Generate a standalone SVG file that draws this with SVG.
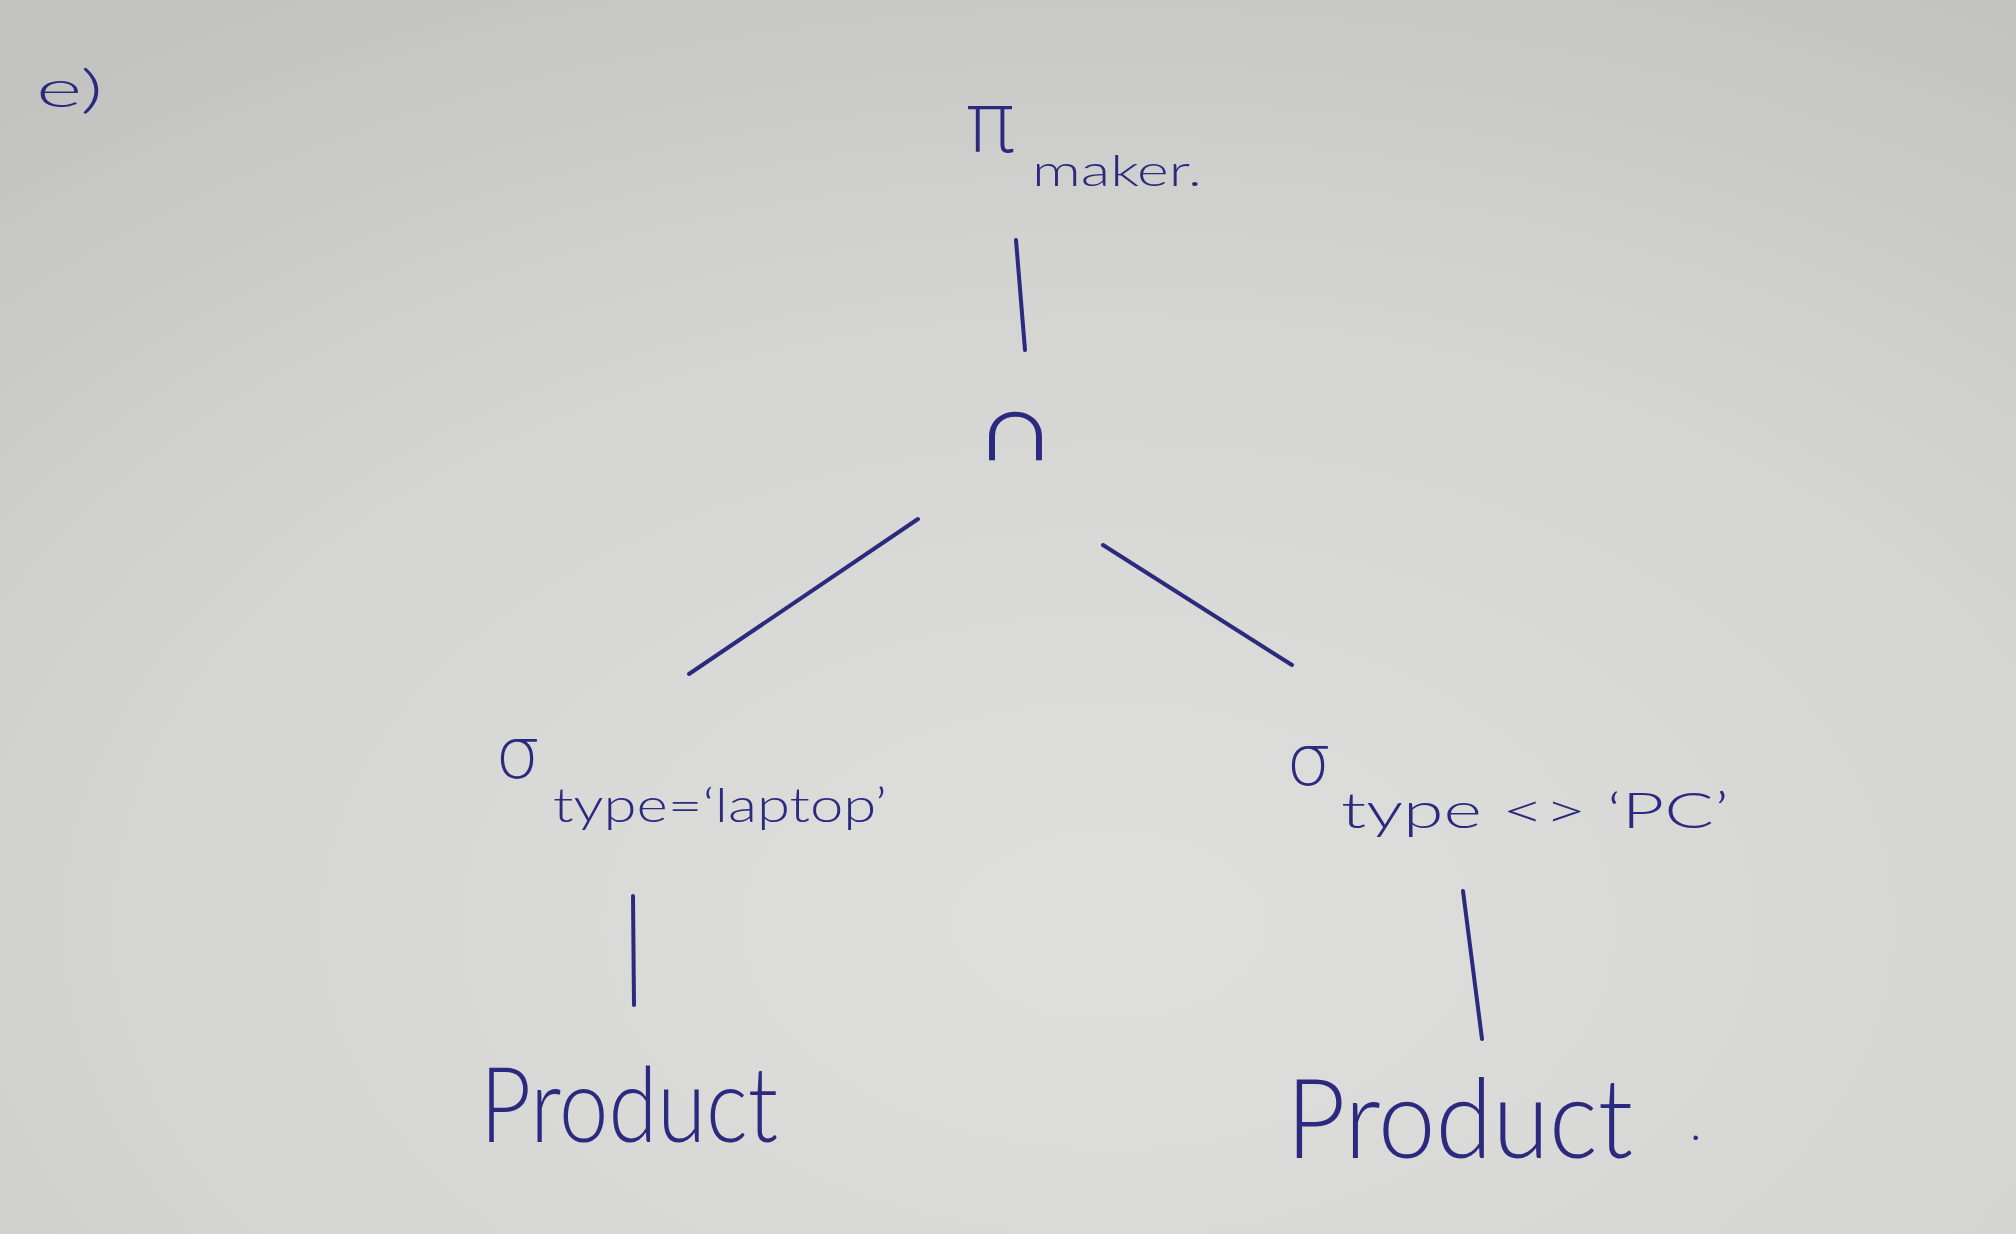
<svg xmlns="http://www.w3.org/2000/svg" width="2016" height="1234" viewBox="0 0 2016 1234">
<defs>
<radialGradient id="paper" cx="0.55" cy="0.75" r="0.85">
<stop offset="0" stop-color="#dfdfde"/>
<stop offset="0.6" stop-color="#d4d4d3"/>
<stop offset="1" stop-color="#c3c3c1"/>
</radialGradient>
<style>
.ink{fill:#2c2a7e;font-family:"DejaVu Sans","Liberation Sans",sans-serif;font-weight:200;}
.lbl{fill:#2c2a7e;font-family:Lato,Roboto,"Liberation Sans",sans-serif;font-weight:300;}
.edge{stroke:#2c2a7e;stroke-width:4;stroke-linecap:round;fill:none;}
</style>
</defs>
<rect x="0" y="0" width="2016" height="1234" fill="url(#paper)"/>
<g id="label-e"><text class="lbl" x="36" y="107" font-size="52" textLength="67" lengthAdjust="spacingAndGlyphs">e)</text></g>
<g id="node-project">
<text class="ink" x="965" y="152" font-size="84">π</text>
<text class="lbl" x="1032" y="186" font-size="44" textLength="170" lengthAdjust="spacingAndGlyphs">maker.</text>
</g>
<g id="node-intersect"><text class="ink" x="973" y="460" font-size="96" textLength="85" lengthAdjust="spacingAndGlyphs">∩</text></g>
<g id="node-select-laptop">
<text class="ink" x="495" y="778" font-size="72">σ</text>
<text class="lbl" x="553" y="822" font-size="48" textLength="334" lengthAdjust="spacingAndGlyphs">type=‘laptop’</text>
</g>
<g id="node-select-pc">
<text class="ink" x="1286" y="785" font-size="72">σ</text>
<text class="lbl" x="1341" y="828" font-size="50" textLength="388" lengthAdjust="spacingAndGlyphs">type &lt;&gt; ‘PC’</text>
</g>
<g id="node-product-left"><text class="lbl" x="480" y="1142" font-size="104" textLength="298" lengthAdjust="spacingAndGlyphs">Product</text></g>
<g id="node-product-right">
<text class="lbl" x="1286" y="1158" font-size="110" textLength="347" lengthAdjust="spacingAndGlyphs">Product</text>
<text class="lbl" x="1690" y="1140" font-size="48">.</text>
</g>
<g id="connectors">
<line class="edge" x1="1016" y1="240" x2="1025" y2="350"/>
<line class="edge" x1="918" y1="519" x2="689" y2="674"/>
<line class="edge" x1="1103" y1="545" x2="1292" y2="665"/>
<line class="edge" x1="633" y1="896" x2="634" y2="1005"/>
<line class="edge" x1="1463" y1="891" x2="1482" y2="1039"/>
</g>
</svg>
